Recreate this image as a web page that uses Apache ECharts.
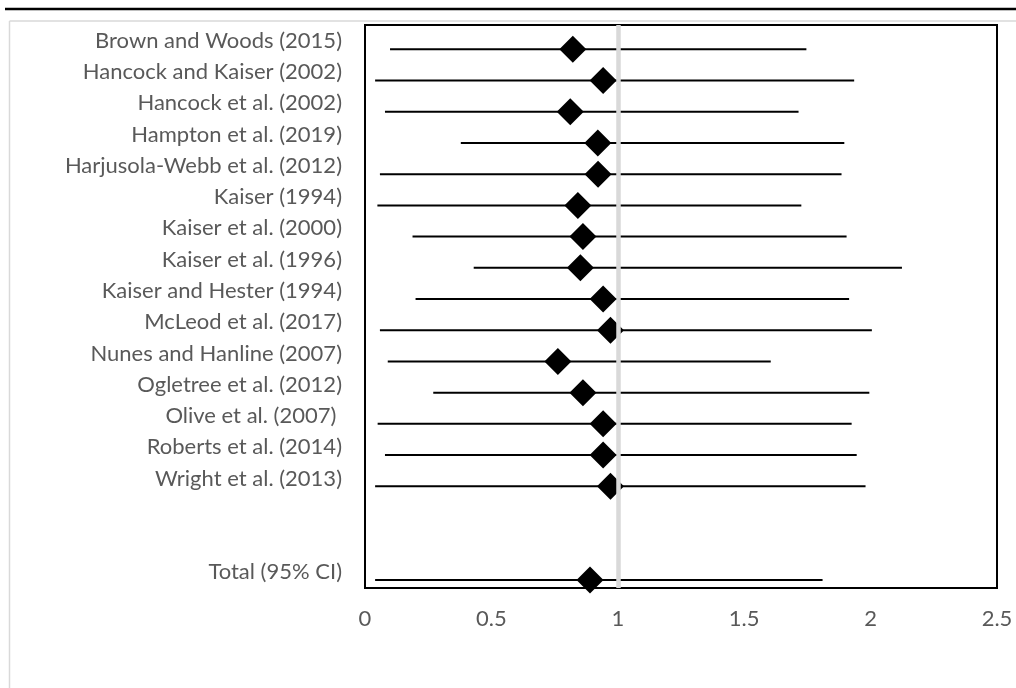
<!DOCTYPE html>
<html>
<head>
<meta charset="utf-8">
<script src="https://cdn.jsdelivr.net/npm/echarts@6/dist/echarts.min.js"></script>
<style>
  html, body { margin: 0; padding: 0; background: #fff; }
  #chart { width: 1016px; height: 688px; }
</style>
</head>
<body>
<div id="chart"></div>
<script>
// study labels, top to bottom (two empty rows before the total)
const studies = [
  'Brown and Woods (2015)',
  'Hancock and Kaiser (2002)',
  'Hancock et al. (2002)',
  'Hampton et al. (2019)',
  'Harjusola-Webb et al. (2012)',
  'Kaiser (1994)',
  'Kaiser et al. (2000)',
  'Kaiser et al. (1996)',
  'Kaiser and Hester (1994)',
  'McLeod et al. (2017)',
  'Nunes and Hanline (2007)',
  'Ogletree et al. (2012)',
  'Olive et al. (2007) ',
  'Roberts et al. (2014)',
  'Wright et al. (2013)',
  '',
  '',
  'Total (95% CI)',
]

// row of each estimate on the value axis (1 = top)
const rowPos = [1, 2, 3, 4, 5, 6, 7, 8, 9, 10, 11, 12, 13, 14, 15, 18]
const estimate = [0.822, 0.942, 0.812, 0.921, 0.922, 0.842, 0.862, 0.852, 0.942, 0.971, 0.763, 0.862, 0.942, 0.942, 0.971, 0.89]
const ciLow = [0.099, 0.04, 0.079, 0.379, 0.059, 0.049, 0.188, 0.43, 0.2, 0.059, 0.09, 0.27, 0.05, 0.079, 0.04, 0.04]
const ciHigh = [1.746, 1.935, 1.715, 1.896, 1.885, 1.726, 1.905, 2.124, 1.915, 2.005, 1.605, 1.995, 1.925, 1.945, 1.98, 1.81]
const xTicks = [0, 0.5, 1, 1.5, 2, 2.5]
const nullLine = 1

const chart = echarts.init(document.getElementById('chart'))

const textColor = '#595959'
const font = 'Lato'

chart.setOption({
  animation: false,
  grid: {
    left: 365, top: 25, width: 632, height: 563,
    show: true, borderColor: '#000', borderWidth: 2,
  },
  graphic: [
    { type: 'line', shape: { x1: 5, y1: 9, x2: 1016, y2: 9 }, style: { stroke: '#000', lineWidth: 2.5 } },
    { type: 'line', shape: { x1: 9.5, y1: 21, x2: 1016, y2: 21 }, style: { stroke: '#d9d9d9', lineWidth: 1.5 } },
    { type: 'line', shape: { x1: 9.5, y1: 21, x2: 9.5, y2: 688 }, style: { stroke: '#d9d9d9', lineWidth: 1.5 } },
  ],
  xAxis: {
    type: 'value',
    min: xTicks[0],
    max: xTicks[xTicks.length - 1],
    interval: 0.5,
    axisLine: { show: false },
    axisTick: { show: false },
    splitLine: { show: false },
    axisLabel: { color: textColor, fontFamily: font, fontSize: 22, margin: 20 },
  },
  yAxis: [
    {
      type: 'category',
      data: studies,
      inverse: true,
      axisLine: { show: false },
      axisTick: { show: false },
      splitLine: { show: false },
      axisLabel: { color: textColor, fontFamily: font, fontSize: 22, margin: 23, interval: 0 },
    },
    {
      type: 'value',
      inverse: true,
      min: 0.22,
      max: 18.26,
      show: false,
      splitLine: { show: false },
    },
  ],
  series: [
    {
      type: 'custom',
      yAxisIndex: 1,
      z: 2,
      data: rowPos.map((r, i) => [ciLow[i], ciHigh[i], r]),
      renderItem(params, api) {
        const a = api.coord([api.value(0), api.value(2)])
        const b = api.coord([api.value(1), api.value(2)])
        return {
          type: 'line',
          shape: { x1: a[0], y1: a[1], x2: b[0], y2: b[1] },
          style: { stroke: '#000', lineWidth: 2 },
        }
      },
    },
    {
      type: 'scatter',
      yAxisIndex: 1,
      z: 3,
      symbol: 'diamond',
      symbolSize: 27,
      itemStyle: { color: '#000', opacity: 1 },
      data: rowPos.map((r, i) => [estimate[i], r]),
    },
    {
      type: 'line',
      yAxisIndex: 1,
      z: 5,
      data: [],
      markLine: {
        silent: true,
        symbol: 'none',
        label: { show: false },
        lineStyle: { color: '#d9d9d9', width: 4.5, type: 'solid' },
        data: [{ xAxis: nullLine }],
      },
    },
  ],
})
</script>
</body>
</html>
